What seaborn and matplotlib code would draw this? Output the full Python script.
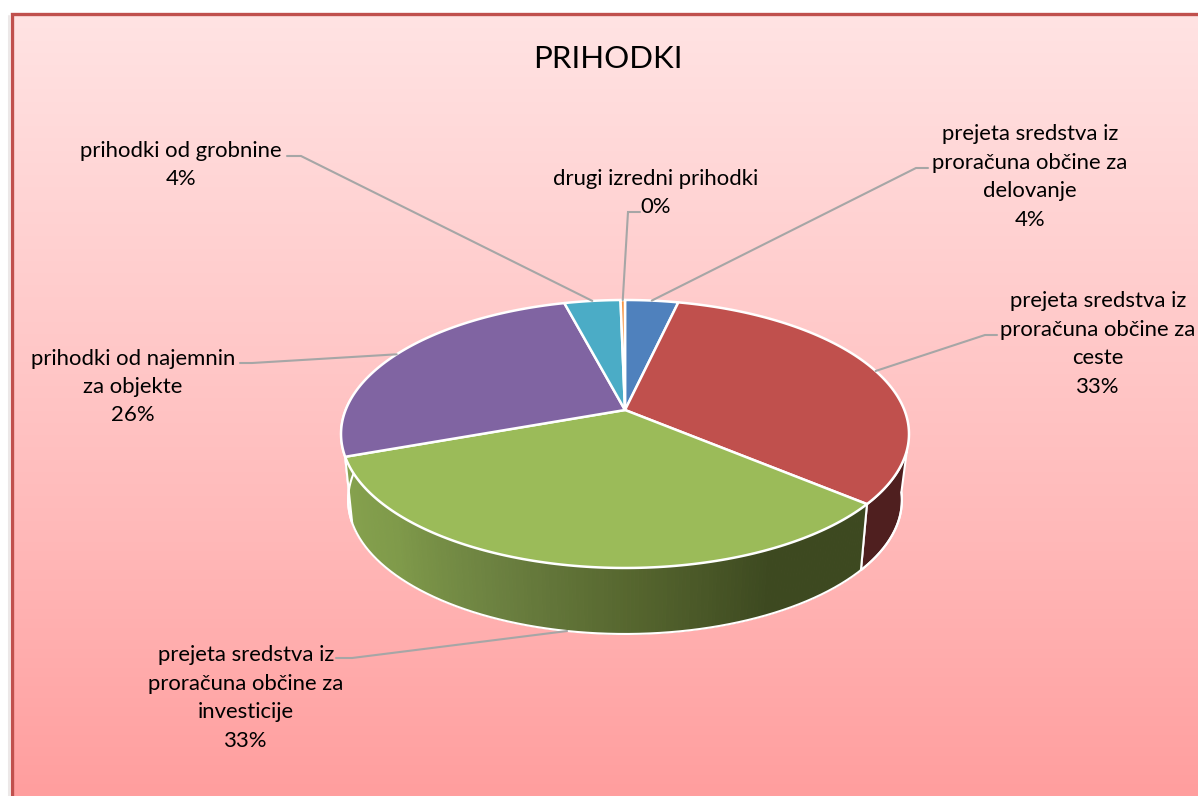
import numpy as np
import seaborn as sns
import matplotlib.pyplot as plt
from matplotlib.colors import LinearSegmentedColormap

# slices clockwise from 12 o'clock
categories = ["prejeta sredstva iz\nproračuna občine za\ndelovanje",
              "prejeta sredstva iz\nproračuna občine za\nceste",
              "prejeta sredstva iz\nproračuna občine za\ninvesticije",
              "prihodki od najemnin\nza objekte",
              "prihodki od grobnine",
              "drugi izredni prihodki"]
values = [3.6, 32.5, 33.4, 26.4, 3.8, 0.3]
percent_labels = ["4%", "33%", "33%", "26%", "4%", "0%"]
slice_colors = ["#4F81BD", "#C0504D", "#9BBB59", "#8064A2", "#4BACC6", "#F79646"]

# label centre and the elbow of its leader line, in pixels
label_xy = [(1030, 177), (1098, 344), (246, 698), (133, 387), (181, 165), (656, 193)]
elbows = [[(916, 168), (928, 168)], [(985, 335), (997, 335)], [(352, 658), (336, 658)],
          [(252, 363), (240, 363)], [(301, 156), (287, 156)], [(628, 212), (640, 212)]]

sns.set_theme(style="white")
plt.rcParams['font.family'] = ['Lato', 'DejaVu Sans']

# pie geometry in pixels (tilted disc seen in perspective)
cx, cy = 625, 410
R, S, k = 279.4, 129.7, 0.179
depth, shrink = 66, 0.975


def top_pt(deg):
    t = np.radians(deg)
    u, v = np.sin(t), np.cos(t)
    w = 1 + k * v
    return cx + R * u / w, cy - S * v / w


def bottom_pt(deg):
    x, y = top_pt(deg)
    return cx + (x - cx) * shrink, y + depth


def wall(ax, a, b, color, edge="white", lw=1.5, a_bottom=None):
    a_bottom = a if a_bottom is None else a_bottom
    xt, yt = top_pt(np.linspace(a, b, 60))
    xb, yb = bottom_pt(np.linspace(a_bottom, b, 60))
    ax.fill(np.r_[xt, xb[::-1]], np.r_[yt, yb[::-1]], color=color, ec=edge, lw=lw)


fig = plt.figure(figsize=(11.98, 7.96), dpi=100)
ax = fig.add_axes([0, 0, 1, 1])
ax.set_xlim(0, 1198)
ax.set_ylim(796, 0)
ax.axis("off")

# frame with gradient fill
grad = LinearSegmentedColormap.from_list(
    "bg", [(0, "#FFE3E3"), (0.3, "#FFD0D0"), (0.65, "#FFBABA"), (1, "#FF9E9E")])
ax.imshow(np.linspace(0, 1, 256)[:, None], cmap=grad, extent=(11, 1198, 796, 13),
          aspect="auto", zorder=0)
ax.set_xlim(0, 1198)
ax.set_ylim(796, 0)
ax.plot([11.5, 11.5, 1198], [796, 13.5, 13.5], color="#C0504D", lw=2.4, zorder=1,
        solid_joinstyle="miter")
ax.plot([9, 9], [16, 796], color="#ECE8E8", lw=1.5, zorder=0.5)

edges = np.r_[0, np.cumsum(values)] / np.sum(values) * 360

# side walls, back to front
wall(ax, edges[3], edges[3] + 25, "#CFCBDC")
wall(ax, 107, edges[2], "#4F1F1F", a_bottom=97)
green_edge = np.linspace(edges[2], edges[3], 180)
shades = sns.blend_palette(["#3D4920", "#3D4920", "#55652E", "#6B8040", "#7F9A4A", "#86A24E"], 179)
for i in range(179):
    wall(ax, green_edge[i], green_edge[i + 1], shades[i], edge=shades[i], lw=0.8)
xb, yb = bottom_pt(np.linspace(97, edges[3] + 25, 200))
ax.plot(xb, yb, color="white", lw=1.5, zorder=2)
for e in [edges[2], edges[3]]:
    xl, yl = zip(top_pt(e), bottom_pt(e))
    ax.plot(xl, yl, color="white", lw=1.5, zorder=2)

# top faces
for i, col in enumerate(slice_colors):
    th = np.linspace(edges[i], edges[i + 1], 120)
    x, y = top_pt(th)
    ax.fill(np.r_[cx, x], np.r_[cy, y], color=col, ec="white", lw=1.8, zorder=3,
            joinstyle="round")

# leader lines and labels
for i, cat in enumerate(categories):
    mid = (edges[i] + edges[i + 1]) / 2
    start = bottom_pt(mid) if i == 2 else top_pt(mid)
    pts = [start] + elbows[i]
    ax.plot(*zip(*pts), color="#A6A6A6", lw=1.5, zorder=4, solid_joinstyle="miter")
    ax.text(*label_xy[i], cat + "\n" + percent_labels[i], ha="center", va="center",
            fontsize=15.9, color="#000000", linespacing=1.53, zorder=5)

ax.text(608, 59, "PRIHODKI", ha="center", va="center", fontsize=22.5, color="#000000", zorder=5)

fig.savefig("out.png", dpi=100)
